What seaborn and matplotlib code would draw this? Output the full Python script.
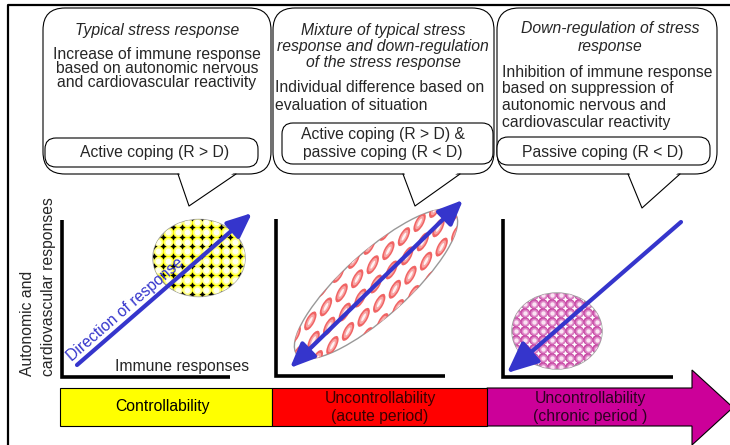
import numpy as np
import pandas as pd
import matplotlib.pyplot as plt
import seaborn as sns
from matplotlib.patches import FancyBboxPatch, Ellipse, Polygon, Rectangle, FancyArrowPatch

# === TEXT CONTENT ===
titles = [
    ["Typical stress response"],
    ["Mixture of typical stress", "response and down-regulation", "of the stress response"],
    ["Down-regulation of stress", "response"],
]
bodies = [
    ["Increase of immune response", "based on autonomic nervous", "and cardiovascular reactivity"],
    ["Individual difference based on", "evaluation of situation"],
    ["Inhibition of immune response", "based on suppression of", "autonomic nervous and", "cardiovascular reactivity"],
]
coping = [
    ["Active coping (R > D)"],
    ["Active coping (R > D) &", "passive coping (R < D)"],
    ["Passive coping (R < D)"],
]
stages = [
    ["Controllability"],
    ["Uncontrollability", "(acute period)"],
    ["Uncontrollability", "(chronic period )"],
]
stage_colors = ["#FFFF00", "#FF0000", "#CC0099"]
stage_text_colors = ["#000000", "#3A0000", "#2E0022"]
ylabel_lines = ["Autonomic and", "cardiovascular responses"]
xlabel = "Immune responses"
arrow_label = "Direction of response"

# === LAYOUT (pixel coordinates, y downwards) ===
bubble_x = [(43, 271), (273, 494), (497, 717)]
bubble_top, bubble_bot = 8, 174
title_x = [157, 383, 610]
title_y = [[30], [30, 47, 63], [28, 47]]
body_x = [157, 275, 502]
body_ha = ["center", "left", "left"]
body_y = [[54, 68.5, 83], [88, 106], [72, 89, 106, 123]]
coping_box = [(45, 138, 213, 29), (282, 123, 211, 41), (497, 137, 213, 28)]
coping_x = [155, 383, 603]
coping_y = [[152], [135, 153], [152]]
tails = [[(178, 174), (189, 206), (236, 174)],
         [(403, 174), (415, 206), (460, 174)],
         [(628, 174), (642, 208), (680, 174)]]
panels = [(62, 220, 377, 230), (276, 219, 376, 445), (503, 219, 377, 673)]
bar_x = [60, 272, 487, 692]
bar_top, bar_bot = 388, 426
stage_text_x = [162, 380, 590]
blue = "#3535CC"
FS = 11.3

sns.set_theme(style="white")
plt.rcParams['font.family'] = ['Liberation Sans', 'DejaVu Sans']

fig = plt.figure(figsize=(7.3, 4.45), dpi=100)
ax = fig.add_axes([0, 0, 1, 1])


def texture(ax, cx, cy, w, h, step, clip, **kw):
    # lattice of markers used as a fill pattern, clipped to a patch
    gx, gy = np.meshgrid(np.arange(cx - w, cx + w + 1, step), np.arange(cy - h, cy + h + 1, step))
    df = pd.DataFrame({"x": gx.ravel(), "y": gy.ravel()})
    n = len(ax.collections)
    sns.scatterplot(data=df, x="x", y="y", ax=ax, legend=False, linewidth=0, **kw)
    for c in ax.collections[n:]:
        c.set_clip_path(clip)


# === OUTER FRAME ===
ax.plot([8, 8, 730], [445, 5, 5], color="black", lw=1.6)

# === SPEECH BUBBLES ===
for i in range(3):
    x0, x1 = bubble_x[i]
    ax.add_patch(FancyBboxPatch((x0, bubble_top), x1 - x0, bubble_bot - bubble_top,
                                boxstyle="round,pad=0,rounding_size=22",
                                fc="white", ec="black", lw=0.8, zorder=2))
    tl, tip, tr = tails[i]
    ax.add_patch(Polygon([(tl[0] + 1, tl[1] - 2), tip, (tr[0] - 1, tr[1] - 2)],
                         closed=True, fc="white", ec="none", zorder=3))
    ax.plot([tl[0], tip[0], tr[0]], [tl[1], tip[1], tr[1]], color="black", lw=0.8, zorder=3)

    for line, y in zip(titles[i], title_y[i]):
        ax.text(title_x[i], y, line, ha="center", va="center", fontsize=FS, style="italic", zorder=4)
    for line, y in zip(bodies[i], body_y[i]):
        ax.text(body_x[i], y, line, ha=body_ha[i], va="center", fontsize=FS, zorder=4)

    bx, by, bw, bh = coping_box[i]
    ax.add_patch(FancyBboxPatch((bx, by), bw, bh, boxstyle="round,pad=0,rounding_size=11",
                                fc="white", ec="black", lw=0.8, zorder=3))
    for line, y in zip(coping[i], coping_y[i]):
        ax.text(coping_x[i], y, line, ha="center", va="center", fontsize=FS, zorder=4)

# === AXES OF THE THREE PANELS ===
for x0, ytop, ybot, xr in panels:
    ax.plot([x0, x0, xr], [ytop, ybot, ybot], color="black", lw=2.6,
            solid_joinstyle="miter", solid_capstyle="butt")

for k, line in enumerate(ylabel_lines):
    ax.text(27 + 21 * k, 376, line, rotation=90, rotation_mode="anchor",
            ha="left", va="center", fontsize=FS)
ax.text(115, 366, xlabel, ha="left", va="center", fontsize=FS)

# === PANEL 1: yellow response cloud ===
e1 = Ellipse((199, 258), 92, 77, fc="#FFFF00", ec="#999999", lw=1, zorder=2)
ax.add_patch(e1)
texture(ax, 203.8, 262.8, 55, 50, 9.6, e1, s=40, color="#FFFF90", zorder=3)
texture(ax, 203.8, 262.8, 55, 50, 9.6, e1, s=16, color="#FFFFF0", zorder=3)
texture(ax, 199, 258, 55, 50, 9.6, e1, s=20, color="black", marker=(4, 1, 0), zorder=4)

# === PANEL 2: elongated red cloud ===
e2 = Ellipse((376, 284), 212, 64, angle=-42, fc="white", ec="#999999", lw=1, zorder=2)
ax.add_patch(e2)
ang = np.deg2rad(42)
ua = np.array([np.cos(ang), -np.sin(ang)])
va = np.array([np.sin(ang), np.cos(ang)])
for j in range(-3, 4):
    for i in range(-7, 8):
        p = np.array([376, 284]) + (i + 0.5 * (j % 2)) * 21 * ua + j * 16.5 * va
        for w, h, c in [(21, 8.5, "#F06464"), (15, 5.5, "#F8A6A6"), (9, 2.5, "#FFF2F2")]:
            o = Ellipse(p, w, h, angle=-62, fc=c, ec="none", zorder=3)
            ax.add_patch(o)
            o.set_clip_path(e2)

# === PANEL 3: pink cloud ===
e3 = Ellipse((557, 331), 90, 76, fc="#C94CA6", ec="#999999", lw=1, zorder=2)
ax.add_patch(e3)
texture(ax, 561.5, 335.5, 55, 50, 9, e3, s=30, color="#DD86C6", zorder=3)
texture(ax, 561.5, 335.5, 55, 50, 9, e3, s=10, color="#FBE4F3", zorder=3)
texture(ax, 557, 331, 55, 50, 9, e3, s=16, color="white", marker=(4, 1, 0), zorder=4)

# === BLUE DIRECTION ARROWS ===
arrows = [((77, 365), (252, 213), "-|>,head_length=1.5,head_width=0.65"),
          ((290, 368), (463, 200), "<|-|>,head_length=1.5,head_width=0.65"),
          ((681, 222), (507, 373), "-|>,head_length=1.9,head_width=0.85")]
for start, end, style in arrows:
    ax.add_patch(FancyArrowPatch(start, end, arrowstyle=style, mutation_scale=10,
                                 lw=3, color=blue, shrinkA=0, shrinkB=0, zorder=5))
ax.text(125, 309, arrow_label, rotation=41, rotation_mode="anchor", ha="center",
        va="center", color=blue, fontsize=FS, zorder=5)

# === STAGE ARROW ALONG THE BOTTOM ===
ax.add_patch(Polygon([(bar_x[2], bar_top), (bar_x[3], bar_top), (bar_x[3], 370), (733, 407.5),
                      (bar_x[3], 445), (bar_x[3], bar_bot), (bar_x[2], bar_bot)],
                     closed=True, fc=stage_colors[2], ec="black", lw=0.8, zorder=2))
for k in range(2):
    ax.add_patch(Rectangle((bar_x[k], bar_top), bar_x[k + 1] - bar_x[k], bar_bot - bar_top,
                           fc=stage_colors[k], ec="black", lw=0.8, zorder=3))
for k, lines in enumerate(stages):
    ys = [407] if len(lines) == 1 else [398, 416]
    for line, y in zip(lines, ys):
        ax.text(stage_text_x[k], y, line, ha="center", va="center", fontsize=FS,
                color=stage_text_colors[k], zorder=4)

ax.set_xlim(0, 730)
ax.set_ylim(445, 0)
ax.axis("off")
fig.savefig("out.png", dpi=100, facecolor="white")
